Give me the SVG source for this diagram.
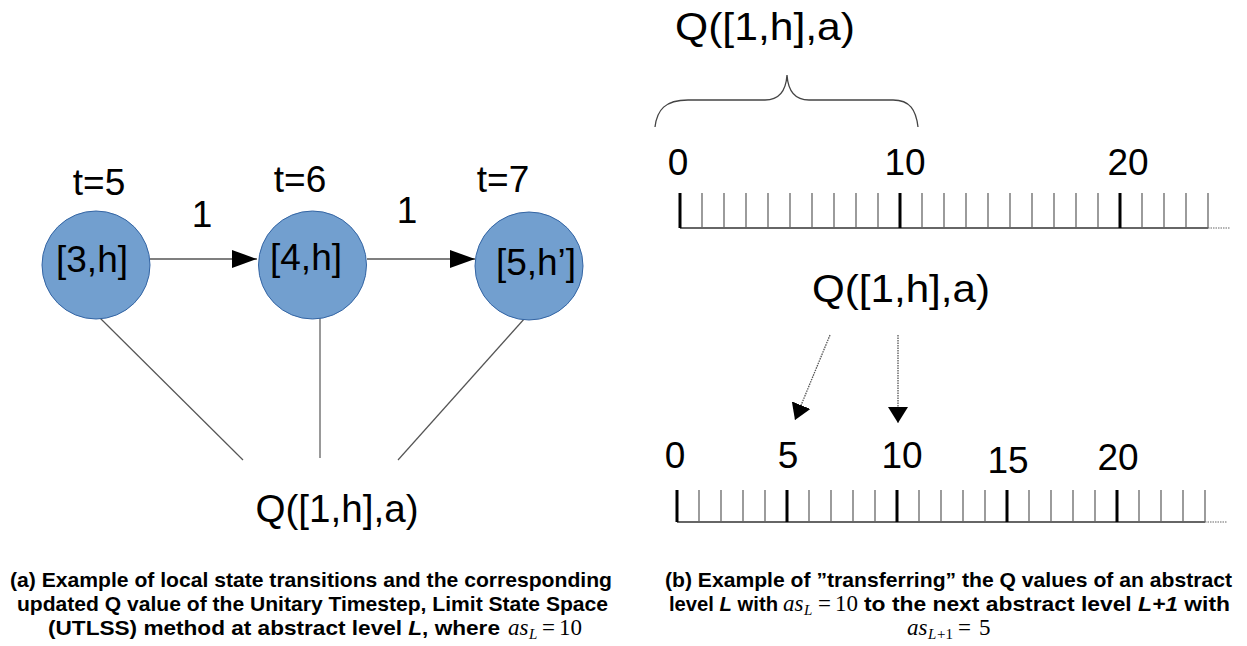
<svg xmlns="http://www.w3.org/2000/svg" width="1247" height="646" viewBox="0 0 1247 646">
<style>
.lbl{font-family:"Liberation Sans",Arial,sans-serif;font-size:37px;fill:#000}
.q{font-family:"Liberation Sans",Arial,sans-serif;font-size:39px;fill:#000}
.node circle{fill:#729fcf;stroke:#3465a4;stroke-width:1}
.cap{font-family:"Liberation Sans",Arial,sans-serif;font-size:21px;font-weight:bold;fill:#000}
.m{font-family:"Liberation Serif","Times New Roman",serif;font-size:23px;fill:#000}
.mi{font-style:italic}
.sub{font-size:15px}
.link{stroke:#555;stroke-width:1.2;fill:none}
.edge{stroke:#000;stroke-width:1.2;fill:none}
.dot{stroke:#555;stroke-width:1.3;stroke-dasharray:1.5 1;fill:none}
.minor{stroke:#666;stroke-width:1.3}
.major{stroke:#000;stroke-width:3}
.base{stroke:#333;stroke-width:1.5}
.ext{stroke:#999;stroke-width:1.3;stroke-dasharray:1.5 1}
</style>
<defs>
<marker id="ah" viewBox="0 0 25 18" refX="25" refY="9" markerWidth="25" markerHeight="18" markerUnits="userSpaceOnUse" orient="auto">
<path d="M0,0 L25,9 L0,18 Z" fill="#000"/>
</marker>
<marker id="ah2" viewBox="0 0 16 20" refX="16" refY="10" markerWidth="16" markerHeight="20" markerUnits="userSpaceOnUse" orient="auto">
<path d="M0,0 L16,10 L0,20 Z" fill="#000"/>
</marker>
</defs>

<g id="connectors">
<line class="link" x1="100" y1="318" x2="243" y2="460"/>
<line class="link" x1="320" y1="318" x2="320" y2="458"/>
<line class="link" x1="525" y1="318" x2="398" y2="460"/>
<line class="edge" x1="150" y1="259" x2="257" y2="259" marker-end="url(#ah)"/>
<line class="edge" x1="367" y1="259" x2="475" y2="259" marker-end="url(#ah)"/>
<line class="dot" x1="830" y1="335" x2="795" y2="420" marker-end="url(#ah2)"/>
<line class="dot" x1="898" y1="335" x2="898" y2="423" marker-end="url(#ah2)"/>
</g>

<g id="node-3h" class="node">
<circle cx="96" cy="265" r="54"/>
<text class="lbl" x="92" y="272" text-anchor="middle">[3,h]</text>
<text class="lbl" x="99" y="195" text-anchor="middle">t=5</text>
</g>
<g id="node-4h" class="node">
<circle cx="312.5" cy="265" r="54"/>
<text class="lbl" x="306" y="270" text-anchor="middle">[4,h]</text>
<text class="lbl" x="300" y="192" text-anchor="middle">t=6</text>
</g>
<g id="node-5h" class="node">
<circle cx="529" cy="266" r="54"/>
<text class="lbl" x="536" y="275" text-anchor="middle">[5,h’]</text>
<text class="lbl" x="503" y="192" text-anchor="middle">t=7</text>
</g>
<g id="edge-labels">
<text class="lbl" x="202" y="227" text-anchor="middle">1</text>
<text class="lbl" x="407" y="223" text-anchor="middle">1</text>
</g>
<g id="node-q-left">
<text class="q" x="337" y="522" text-anchor="middle" textLength="163" lengthAdjust="spacingAndGlyphs">Q([1,h],a)</text>
</g>

<g id="node-q-top">
<text class="q" x="765" y="40" text-anchor="middle" textLength="180" lengthAdjust="spacingAndGlyphs">Q([1,h],a)</text>
<path class="link" style="stroke:#444;stroke-width:1.3" d="M655,127 C657,110 665,100 688,100 L765,100 C780,100 786,90 787,75 C788,90 794,100 809,100 L893,100 C910,100 916,110 918,127"/>
</g>
<g id="node-q-mid">
<text class="q" x="901" y="302" text-anchor="middle" textLength="178" lengthAdjust="spacingAndGlyphs">Q([1,h],a)</text>
</g>

<g id="ruler-top">
<line class="base" x1="680" y1="228" x2="1208" y2="228"/>
<line class="ext" x1="1208" y1="228" x2="1230" y2="228"/>
<g class="minor">
<line x1="702" y1="193" x2="702" y2="228"/><line x1="724" y1="193" x2="724" y2="228"/><line x1="746" y1="193" x2="746" y2="228"/><line x1="768" y1="193" x2="768" y2="228"/><line x1="790" y1="193" x2="790" y2="228"/><line x1="812" y1="193" x2="812" y2="228"/><line x1="834" y1="193" x2="834" y2="228"/><line x1="856" y1="193" x2="856" y2="228"/><line x1="878" y1="193" x2="878" y2="228"/>
<line x1="922" y1="193" x2="922" y2="228"/><line x1="944" y1="193" x2="944" y2="228"/><line x1="966" y1="193" x2="966" y2="228"/><line x1="988" y1="193" x2="988" y2="228"/><line x1="1010" y1="193" x2="1010" y2="228"/><line x1="1032" y1="193" x2="1032" y2="228"/><line x1="1054" y1="193" x2="1054" y2="228"/><line x1="1076" y1="193" x2="1076" y2="228"/><line x1="1098" y1="193" x2="1098" y2="228"/>
<line x1="1142" y1="193" x2="1142" y2="228"/><line x1="1164" y1="193" x2="1164" y2="228"/><line x1="1186" y1="193" x2="1186" y2="228"/><line x1="1208" y1="193" x2="1208" y2="228"/>
</g>
<g class="major">
<line x1="680" y1="193" x2="680" y2="228"/><line x1="900" y1="193" x2="900" y2="228"/><line x1="1120" y1="193" x2="1120" y2="228"/>
</g>
<text class="lbl" x="678" y="175" text-anchor="middle">0</text>
<text class="lbl" x="905" y="175" text-anchor="middle">10</text>
<text class="lbl" x="1128" y="175" text-anchor="middle">20</text>
</g>

<g id="ruler-bottom">
<line class="base" x1="677" y1="522" x2="1205" y2="522"/>
<line class="ext" x1="1205" y1="522" x2="1227" y2="522"/>
<g class="minor">
<line x1="699" y1="490" x2="699" y2="522"/><line x1="721" y1="490" x2="721" y2="522"/><line x1="743" y1="490" x2="743" y2="522"/><line x1="765" y1="490" x2="765" y2="522"/>
<line x1="809" y1="490" x2="809" y2="522"/><line x1="831" y1="490" x2="831" y2="522"/><line x1="853" y1="490" x2="853" y2="522"/><line x1="875" y1="490" x2="875" y2="522"/>
<line x1="919" y1="490" x2="919" y2="522"/><line x1="941" y1="490" x2="941" y2="522"/><line x1="963" y1="490" x2="963" y2="522"/><line x1="985" y1="490" x2="985" y2="522"/>
<line x1="1029" y1="490" x2="1029" y2="522"/><line x1="1051" y1="490" x2="1051" y2="522"/><line x1="1073" y1="490" x2="1073" y2="522"/><line x1="1095" y1="490" x2="1095" y2="522"/>
<line x1="1139" y1="490" x2="1139" y2="522"/><line x1="1161" y1="490" x2="1161" y2="522"/><line x1="1183" y1="490" x2="1183" y2="522"/><line x1="1205" y1="490" x2="1205" y2="522"/>
</g>
<g class="major">
<line x1="677" y1="490" x2="677" y2="522"/><line x1="787" y1="490" x2="787" y2="522"/><line x1="897" y1="490" x2="897" y2="522"/><line x1="1007" y1="490" x2="1007" y2="522"/><line x1="1117" y1="490" x2="1117" y2="522"/>
</g>
<text class="lbl" x="675" y="468" text-anchor="middle">0</text>
<text class="lbl" x="788" y="468" text-anchor="middle">5</text>
<text class="lbl" x="902" y="468" text-anchor="middle">10</text>
<text class="lbl" x="1008" y="473" text-anchor="middle">15</text>
<text class="lbl" x="1118" y="470" text-anchor="middle">20</text>
</g>

<g id="caption-a">
<text class="cap" x="10" y="587" textLength="602" lengthAdjust="spacingAndGlyphs">(a) Example of local state transitions and the corresponding</text>
<text class="cap" x="17" y="611" textLength="591" lengthAdjust="spacingAndGlyphs">updated Q value of the Unitary Timestep, Limit State Space</text>
<text class="cap" x="48" y="635" textLength="452" lengthAdjust="spacingAndGlyphs">(UTLSS) method at abstract level <tspan font-style="italic">L</tspan>, where</text>
<text class="m mi" x="508" y="635">as</text>
<text class="m mi sub" x="529" y="639">L</text>
<text class="m" x="542" y="635">=</text>
<text class="m" x="559" y="635">10</text>
</g>
<g id="caption-b">
<text class="cap" x="665" y="587" textLength="567" lengthAdjust="spacingAndGlyphs">(b) Example of ”transferring” the Q values of an abstract</text>
<text class="cap" x="669" y="611" textLength="109" lengthAdjust="spacingAndGlyphs">level <tspan font-style="italic">L</tspan> with</text>
<text class="m mi" x="783" y="611">as</text>
<text class="m mi sub" x="804" y="615">L</text>
<text class="m" x="818" y="611">=</text>
<text class="m" x="835" y="611">10</text>
<text class="cap" x="864" y="611" textLength="366" lengthAdjust="spacingAndGlyphs">to the next abstract level <tspan font-style="italic">L+1</tspan> with</text>
<text class="m mi" x="907" y="635">as</text>
<text class="m mi sub" x="928" y="639">L</text>
<text class="m sub" x="937" y="639">+1</text>
<text class="m" x="958" y="635">=</text>
<text class="m" x="979" y="635">5</text>
</g>
</svg>
